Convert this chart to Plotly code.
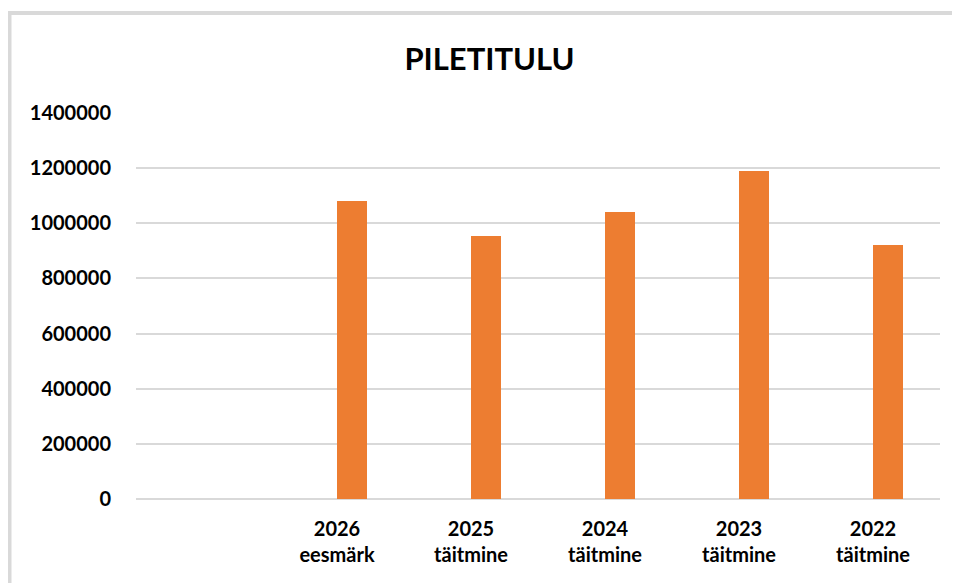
import plotly.graph_objects as go

categories = ["", "2026<br>eesmärk", "2025<br>täitmine", "2024<br>täitmine", "2023<br>täitmine", "2022<br>täitmine"]
values = [None, 1080000, 955000, 1040000, 1188000, 922000]
y_ticks = [0, 200000, 400000, 600000, 800000, 1000000, 1200000, 1400000]
title_text = "PILETITULU"

# page is shown with an 8px body margin, so figure coords = page coords - 8
OFF = 8
W, H = 960 - OFF, 583 - OFF
ML, MR, MT, MB = 136 - OFF, 20, 113 - OFF, 84
pw = W - ML - MR
ph = H - MT - MB

def px_x(p):
    return (p - ML) / pw

def px_y(p):
    return (H - MB - p) / ph

xpos = list(range(len(categories)))

fig = go.Figure()
fig.add_trace(go.Bar(
    x=xpos, y=values,
    width=0.227, offset=0.0,
    marker=dict(color="#ED7D31", line=dict(width=0)),
    showlegend=False, hoverinfo="skip",
))

fig.update_layout(
    width=W, height=H,
    margin=dict(l=ML, r=MR, t=MT, b=MB, pad=0),
    paper_bgcolor="white", plot_bgcolor="white",
    font=dict(family="Lato, Carlito, Calibri, sans-serif", color="#000000"),
    title=dict(
        text="<b>" + title_text + "</b>",
        x=(489.5 - OFF) / W, xanchor="center",
        y=1 - (59 - OFF) / H, yanchor="middle",
        font=dict(size=31, family="Lato, Carlito, Calibri, sans-serif", color="#000000"),
    ),
    xaxis=dict(
        range=[-0.5, len(categories) - 0.5],
        tickmode="array", tickvals=xpos,
        ticktext=["<b>" + c.replace("<br>", "</b><br><b>") + "</b>" if c else "" for c in categories],
        showgrid=False, zeroline=False, showline=False,
        ticks="", ticklabelstandoff=16,
        tickfont=dict(size=20, color="#000000"),
        fixedrange=True,
    ),
    yaxis=dict(
        range=[0, 1400000],
        tickmode="array", tickvals=y_ticks,
        ticktext=["<b>%d</b>" % v for v in y_ticks],
        showgrid=True, gridcolor="#D9D9D9", gridwidth=1.5,
        zeroline=True, zerolinecolor="#D9D9D9", zerolinewidth=1.5,
        showline=False, ticks="", ticklabelstandoff=24,
        tickfont=dict(size=20, color="#000000"),
        fixedrange=True,
    ),
    bargap=0,
    shapes=[dict(
        type="rect", xref="paper", yref="paper",
        x0=px_x(1.5), x1=px_x(950), y0=px_y(600), y1=px_y(5),
        line=dict(color="#D9D9D9", width=4), fillcolor="rgba(0,0,0,0)",
        layer="below",
    )],
)

fig.write_html("out.html")
